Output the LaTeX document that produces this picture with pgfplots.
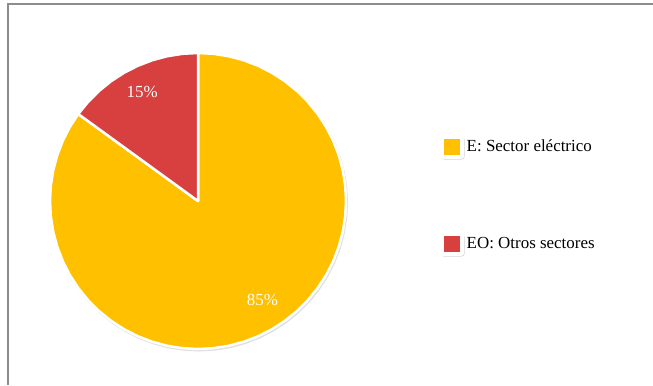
\documentclass[border=0pt]{standalone}
\usepackage{pgfplots}
\pgfplotsset{compat=1.18}
\usepgfplotslibrary{polar}
\usepackage{fontspec}
\setmainfont{Liberation Serif}
\definecolor{pieyellow}{RGB}{255,192,0}
\definecolor{piered}{RGB}{216,64,64}
\definecolor{framegray}{RGB}{140,140,140}
\begin{document}
\begin{tikzpicture}[x=1bp,y=1bp]
\useasboundingbox (0,0) rectangle (653,385);
\fill[white] (0,0) rectangle (653,385);
\draw[framegray, line width=1.6bp] (8,0) -- (8,381) -- (653,381);
\begin{polaraxis}[
  hide axis, clip=false,
  xmin=0, xmax=360, ymin=0, ymax=1,
  scale only axis, width=296bp, height=296bp,
  at={(198bp,184bp)}, anchor=center,
  legend style={at={(1.316,0.725)}, anchor=north west, draw=none, fill=none,
    row sep=72bp, font=\fontsize{17}{20}\selectfont, inner sep=0pt,
    /tikz/every even column/.append style={column sep=4bp}},
  legend cell align=left,
  legend image code/.code={
    \fill[black!18, rounded corners=2.5bp] (-2bp,-11.5bp) rectangle (19.5bp,9bp);
    \fill[white, rounded corners=2.5bp] (-3bp,-11bp) rectangle (19bp,11bp);
    \path[draw=none, fill] (0bp,-8bp) rectangle (16bp,8bp);
  },
]
% shadow
\addplot[draw=black!12, line width=2bp, fill=black!12, xshift=1bp, yshift=-1.5bp, forget plot]
  coordinates {(0,1) (6,1) (12,1) (18,1) (24,1) (30,1) (36,1) (42,1) (48,1) (54,1) (60,1) (66,1) (72,1) (78,1) (84,1) (90,1) (96,1) (102,1) (108,1) (114,1) (120,1) (126,1) (132,1) (138,1) (144,1) (150,1) (156,1) (162,1) (168,1) (174,1) (180,1) (186,1) (192,1) (198,1) (204,1) (210,1) (216,1) (222,1) (228,1) (234,1) (240,1) (246,1) (252,1) (258,1) (264,1) (270,1) (276,1) (282,1) (288,1) (294,1) (300,1) (306,1) (312,1) (318,1) (324,1) (330,1) (336,1) (342,1) (348,1) (354,1) (360,1)};
% E: 85%
\addplot[draw=white, line width=2.5bp, line join=round, line cap=round, fill=pieyellow]
  coordinates {(0,0) (144,1) (150,1) (156,1) (162,1) (168,1) (174,1) (180,1) (186,1) (192,1) (198,1) (204,1) (210,1) (216,1) (222,1) (228,1) (234,1) (240,1) (246,1) (252,1) (258,1) (264,1) (270,1) (276,1) (282,1) (288,1) (294,1) (300,1) (306,1) (312,1) (318,1) (324,1) (330,1) (336,1) (342,1) (348,1) (354,1) (360,1) (366,1) (372,1) (378,1) (384,1) (390,1) (396,1) (402,1) (408,1) (414,1) (420,1) (426,1) (432,1) (438,1) (444,1) (450,1) (0,0)};
\addlegendentry{E: Sector eléctrico}
% EO: 15%
\addplot[draw=white, line width=2.5bp, line join=round, line cap=round, fill=piered]
  coordinates {(0,0) (90,1) (96,1) (102,1) (108,1) (114,1) (120,1) (126,1) (132,1) (138,1) (144,1) (0,0)};
\addlegendentry{EO: Otros sectores}
\node[white, font=\fontsize{17}{20}\selectfont] at (axis cs:117,0.83) {15\%};
\node[white, font=\fontsize{17}{20}\selectfont] at (axis cs:303,0.80) {85\%};
\end{polaraxis}
\end{tikzpicture}
\end{document}
